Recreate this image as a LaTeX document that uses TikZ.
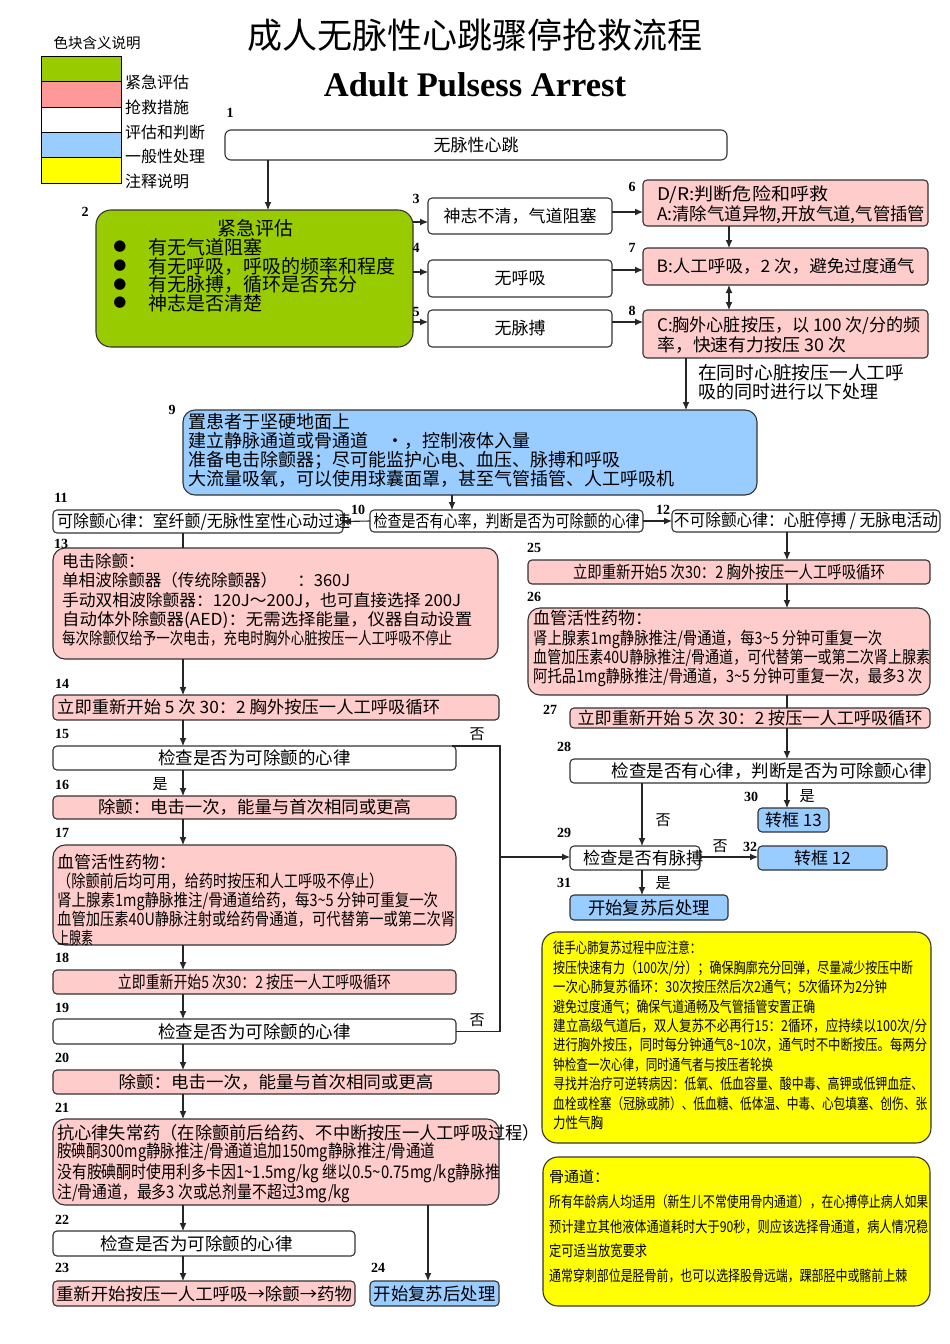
\documentclass[tikz,border=0pt]{standalone}
\usepackage{fontspec}
\usepackage{graphicx}
\setmainfont{Noto Sans CJK SC}
\newfontfamily\tmr{Liberation Serif}
\newfontfamily\djv{DejaVu Sans}
\usetikzlibrary{arrows.meta}
\newcommand\fs[2]{\fontsize{#1}{#2}\selectfont}
\newcommand\fw[2]{\resizebox{#1pt}{\height}{#2}}
\newcommand\tl{\textasciitilde}
\definecolor{gre}{HTML}{99CC00}
\definecolor{pnk}{HTML}{FFCCCC}
\definecolor{pnkL}{HTML}{FF9999}
\definecolor{blu}{HTML}{99CCFF}
\definecolor{yel}{HTML}{FFFF00}
\definecolor{edge}{HTML}{333333}
\newcommand\bx[7]{\node[#2, minimum width={(#5-#3)*1pt}, minimum height={(#6-#4)*1pt}] (#1) at ({(#3+#5)/2},{(#4+#6)/2}) {#7};}
\begin{document}
\begin{tikzpicture}[x=1pt,y=-1pt,
 bxs/.style={draw=edge,line width=1.1pt,rounded corners=4pt,inner sep=0pt,outer sep=0pt,font=\fs{17}{19}},
 wh/.style={bxs,fill=white},
 pk/.style={bxs,fill=pnk},
 bl/.style={bxs,fill=blu},
 gr/.style={bxs,fill=gre},
 ye/.style={bxs,fill=yel},
 lgd/.style={draw=black,line width=1pt,inner sep=0pt,outer sep=0pt},
 arr/.style={line width=1.1pt,draw=black!85,-{Latex[length=8pt,width=7pt]}},
 arrd/.style={line width=1.1pt,draw=black!85,{Latex[length=8pt,width=7pt]}-{Latex[length=8pt,width=7pt]}},
 ln/.style={line width=1.1pt,draw=black!85},
 tx/.style={inner sep=0pt,font=\fs{17}{19}},
 ml/.style={tx,anchor=north west,align=left},
 num/.style={inner sep=0pt,font=\tmr\bfseries\fs{14}{14}},
 yn/.style={inner sep=0pt,font=\fs{15}{15}},
]
\useasboundingbox (0,0) rectangle (950,1344);
\fill[white] (0,0) rectangle (950,1344);

% helper coordinates
\coordinate (xa) at (183,0);
\coordinate (xb) at (268,0);
\coordinate (xc) at (686,0);
\coordinate (xd) at (452,0);
\coordinate (xe) at (729,0);
\coordinate (xf) at (787,0);
\coordinate (xg) at (642,0);
\coordinate (xh) at (500,0);
\coordinate (xi) at (428,0);
\coordinate (ya) at (0,222);
\coordinate (yb) at (0,272);
\coordinate (yc) at (0,322);
\coordinate (yd) at (0,212);
\coordinate (ye) at (0,270);
\coordinate (yf) at (0,857);

% legend
\node[tx,font=\fs{14.5}{15}] (legt) at (97,43) {色块含义说明};
\bx{lg1}{lgd,fill=gre}{41}{56}{121}{81}{}
\bx{lg2}{lgd,fill=pnkL}{41}{81}{121}{107}{}
\bx{lg3}{lgd,fill=white}{41}{107}{121}{132}{}
\bx{lg4}{lgd,fill=blu}{41}{132}{121}{157}{}
\bx{lg5}{lgd,fill=yel}{41}{157}{121}{183}{}
\node[tx,anchor=west,font=\fs{16}{16}] (lgl1) at (125,82) {紧急评估};
\node[tx,anchor=west,font=\fs{16}{16}] (lgl2) at (125,107) {抢救措施};
\node[tx,anchor=west,font=\fs{16}{16}] (lgl3) at (125,132) {评估和判断};
\node[tx,anchor=west,font=\fs{16}{16}] (lgl4) at (125,156) {一般性处理};
\node[tx,anchor=west,font=\fs{16}{16}] (lgl5) at (125,181) {注释说明};

% titles
\node[tx,font=\fs{35}{35}] (title) at (475,35) {成人无脉性心跳骤停抢救流程};
\node[inner sep=0pt,font=\tmr\bfseries\fs{34.5}{35}] (titleen) at (475,85) {Adult Pulsess Arrest};

% boxes
\bx{b1}{wh,rounded corners=6pt}{225}{130}{727}{160}{无脉性心跳}
\bx{g2}{gr,rounded corners=15pt}{96}{210}{413}{347}{}
\bx{b3}{wh}{428}{198}{612}{234}{神志不清，气道阻塞}
\bx{b4}{wh}{428}{260}{612}{297}{无呼吸}
\bx{b5}{wh}{428}{310}{612}{347}{无脉搏}
\bx{b6}{pk}{643}{180}{928}{226}{}
\bx{b7}{pk}{643}{248}{928}{285}{\fw{258}{B:人工呼吸，2 次，避免过度通气}}
\bx{b8}{pk}{643}{310}{928}{358}{}
\bx{b9}{bl,rounded corners=12pt}{183}{410}{757}{495}{}
\bx{b10}{wh}{370}{510}{643}{532}{\fw{266}{检查是否有心率，判断是否为可除颤的心律}}
\bx{b11}{wh}{53}{510}{343}{533}{}
\bx{b12}{wh}{672}{510}{940}{532}{\fw{264}{不可除颤心律：心脏停搏 / 无脉电活动}}
\bx{b13}{pk,rounded corners=12pt}{53}{548}{498}{659}{}
\bx{b14}{pk}{53}{695}{499}{720}{}
\bx{b15}{wh}{53}{746}{456}{770}{\fs{17.5}{19}检查是否为可除颤的心律}
\bx{b16}{pk}{53}{796}{456}{819}{\fw{313}{除颤：电击一次，能量与首次相同或更高}}
\bx{b17}{pk,rounded corners=12pt}{53}{845}{456}{945}{}
\bx{b18}{pk}{53}{970}{456}{994}{\fw{273}{立即重新开始5 次30：2 按压一人工呼吸循环}}
\bx{b19}{wh}{53}{1019}{456}{1044}{\fs{17.5}{19}检查是否为可除颤的心律}
\bx{b20}{pk}{53}{1070}{499}{1094}{\fw{315}{除颤：电击一次，能量与首次相同或更高}}
\bx{b21}{pk,rounded corners=12pt}{53}{1119}{499}{1205}{}
\bx{b22}{wh}{53}{1231}{355}{1256}{}
\bx{b23}{pk}{53}{1281}{355}{1306}{\fw{296}{重新开始按压一人工呼吸→除颤→药物}}
\bx{b24}{bl}{370}{1281}{499}{1306}{\fs{17.4}{19}开始复苏后处理}
\bx{b25}{pk}{528}{560}{930}{584}{\fw{312}{立即重新开始5 次30：2 胸外按压一人工呼吸循环}}
\bx{b26}{pk,rounded corners=12pt}{528}{608}{930}{695}{}
\bx{b27}{pk}{570}{708}{930}{728}{\fw{345}{立即重新开始 5 次 30：2 按压一人工呼吸循环}}
\bx{b28}{wh}{570}{759}{930}{783}{}
\bx{b29}{wh}{570}{846}{700}{870}{}
\bx{b30}{bl}{758}{808}{829}{832}{转框 13}
\bx{b31}{bl}{570}{895}{728}{920}{\fs{17.4}{19}开始复苏后处理}
\bx{b32}{bl}{758}{846}{887}{870}{转框 12}
\bx{y1}{ye,rounded corners=15pt}{542}{932}{931}{1143}{}
\bx{y2}{ye,rounded corners=15pt}{543}{1157}{930}{1306}{}

% texts inside boxes
\node[tx,font=\fs{19}{19}] (g2t) at (255,228) {紧急评估};
\node[ml,font=\fs{19}{18.7}] (g2l) at (148,238.3) {有无气道阻塞\\有无呼吸，呼吸的频率和程度\\有无脉搏，循环是否充分\\神志是否清楚};
\node[inner sep=0pt,font=\djv\fs{15}{15}] (bu1) at (120,247) {●};
\node[inner sep=0pt,font=\djv\fs{15}{15}] (bu2) at (120,265.7) {●};
\node[inner sep=0pt,font=\djv\fs{15}{15}] (bu3) at (120,284.4) {●};
\node[inner sep=0pt,font=\djv\fs{15}{15}] (bu4) at (120,303.1) {●};
\node[ml,font=\fs{17.5}{20}] (t6) at (657,185) {\fw{171}{D/R:判断危险和呼救}\\\fw{268}{A:清除气道异物,开放气道,气管插管}};
\node[ml,font=\fs{17.5}{19.5}] (t8) at (657,317) {\fw{263}{C:胸外心脏按压，以 100 次/分的频}\\\fw{189}{率，快速有力按压 30 次}};
\node[ml,font=\fs{18}{19}] (t8n) at (698,364) {\fw{206}{在同时心脏按压一人工呼}\\吸的同时进行以下处理};
\node[ml,font=\fs{18}{19.2}] (t9) at (188,412.7) {置患者于坚硬地面上\\建立静脉通道或骨通道　·，控制液体入量\\准备电击除颤器；尽可能监护心电、血压、脉搏和呼吸\\大流量吸氧，可以使用球囊面罩，甚至气管插管、人工呼吸机};
\node[tx,anchor=west] (t11) at (57,521.5) {\fw{293}{可除颤心律：室纤颤/无脉性室性心动过速}};
\node[ml,font=\fs{16.5}{19.3}] (t13) at (62,553.4) {电击除颤：\\\fw{288}{单相波除颤器（传统除颤器）\hspace{20pt}：360J}\\\fw{399}{手动双相波除颤器：120J～200J，也可直接选择 200J}\\\fw{410}{自动体外除颤器(AED)：无需选择能量，仪器自动设置}\\\fw{390}{每次除颤仅给予一次电击，充电时胸外心脏按压一人工呼吸不停止}};
\node[tx,anchor=west] (t14) at (57,707.5) {\fw{383}{立即重新开始 5 次 30：2 胸外按压一人工呼吸循环}};
\node[ml] (t17) at (57,854) {血管活性药物：\\\fw{326}{（除颤前后均可用，给药时按压和人工呼吸不停止）}\\\fw{381}{肾上腺素1mg静脉推注/骨通道给药，每3\tl5 分钟可重复一次}\\\fw{398}{血管加压素40U静脉注射或给药骨通道，可代替第一或第二次肾}\\\fw{36}{上腺素}};
\node[ml,font=\fs{17.5}{18.7}] (t21) at (57,1124) {\fw{483}{抗心律失常药（在除颤前后给药、不中断按压一人工呼吸过程）}\\\fw{378}{胺碘酮300mg静脉推注/骨通道追加150mg静脉推注/骨通道}\\\fw{443}{没有胺碘酮时使用利多卡因1\tl1.5mg/kg 继以0.5\tl0.75mg/kg静脉推}\\\fw{293}{注/骨通道，最多3 次或总剂量不超过3mg/kg}};
\node[tx,anchor=west,font=\fs{17.5}{19}] (t22) at (100,1243.5) {检查是否为可除颤的心律};
\node[ml,font=\fs{17}{19.3}] (t26) at (533,610.2) {血管活性药物：\\\fw{349}{肾上腺素1mg静脉推注/骨通道，每3\tl5 分钟可重复一次}\\\fw{397}{血管加压素40U静脉推注/骨通道，可代替第一或第二次肾上腺素}\\\fw{389}{阿托品1mg静脉推注/骨通道，3\tl5 分钟可重复一次，最多3 次}};
\node[tx,anchor=east,font=\fs{17.5}{19}] (t28) at (927,771) {检查是否有心律，判断是否为可除颤心律};
\node[tx,anchor=west] (t29) at (583,858) {\fw{120}{检查是否有脉搏}};
\node[ml,font=\fs{15}{19.4}] (ty1) at (553,941) {\fw{148}{徒手心肺复苏过程中应注意：}\\\fw{360}{按压快速有力（100次/分）；确保胸廓充分回弹，尽量减少按压中断}\\\fw{334}{一次心肺复苏循环：30次按压然后次2通气；5次循环为2分钟}\\\fw{262}{避免过度通气；确保气道通畅及气管插管安置正确}\\\fw{374}{建立高级气道后，双人复苏不必再行15：2循环，应持续以100次/分}\\\fw{374}{进行胸外按压，同时每分钟通气8\tl10次，通气时不中断按压。每两分}\\\fw{220}{钟检查一次心律，同时通气者与按压者轮换}\\\fw{370}{寻找并治疗可逆转病因：低氧、低血容量、酸中毒、高钾或低钾血症、}\\\fw{374}{血栓或栓塞（冠脉或肺）、低血糖、低体温、中毒、心包填塞、创伤、张}\\\fw{50}{力性气胸}};
\node[ml,font=\fs{15}{24.7}] (ty2) at (549,1170) {骨通道：\\\fw{379}{所有年龄病人均适用（新生儿不常使用骨内通道），在心搏停止病人如果}\\\fw{379}{预计建立其他液体通道耗时大于90秒，则应该选择骨通道，病人情况稳}\\\fw{98}{定可适当放宽要求}\\\fw{358}{通常穿刺部位是胫骨前，也可以选择股骨远端，踝部胫中或髂前上棘}};

% number labels
\node[num] (n1) at (230,113) {1};
\node[num] (n2) at (85,212) {2};
\node[num] (n3) at (416,199) {3};
\node[num] (n4) at (416,248) {4};
\node[num] (n5) at (416,312) {5};
\node[num] (n6) at (632,187) {6};
\node[num] (n7) at (632,248) {7};
\node[num] (n8) at (632,311) {8};
\node[num] (n9) at (172,410) {9};
\node[num] (n10) at (358,510) {10};
\node[num] (n11) at (61,498) {11};
\node[num] (n12) at (663,510) {12};
\node[num] (n13) at (61,544) {13};
\node[num] (n14) at (62,684) {14};
\node[num] (n15) at (62,734) {15};
\node[num] (n16) at (62,785) {16};
\node[num] (n17) at (62,833) {17};
\node[num] (n18) at (62,958) {18};
\node[num] (n19) at (62,1008) {19};
\node[num] (n20) at (62,1058) {20};
\node[num] (n21) at (62,1108) {21};
\node[num] (n22) at (62,1220) {22};
\node[num] (n23) at (62,1268) {23};
\node[num] (n24) at (378,1268) {24};
\node[num] (n25) at (534,548) {25};
\node[num] (n26) at (534,597) {26};
\node[num] (n27) at (550,710) {27};
\node[num] (n28) at (564,747) {28};
\node[num] (n29) at (564,833) {29};
\node[num] (n30) at (751,797) {30};
\node[num] (n31) at (564,883) {31};
\node[num] (n32) at (750,847) {32};

% yes / no labels
\node[yn] (no15) at (477,734) {否};
\node[yn] (yes16) at (160,784) {是};
\node[yn] (no19) at (477,1020) {否};
\node[yn] (no28) at (663,820) {否};
\node[yn] (yes30) at (807,796) {是};
\node[yn] (no29) at (720,846) {否};
\node[yn] (yes31) at (663,883) {是};

% connectors
\draw[arr] (b1.south -| xb) -- (g2.north -| xb);
\draw[arr] (g2.east |- ya) -- (b3.west |- ya);
\draw[arr] (g2.east |- yb) -- (b4.west |- yb);
\draw[arr] (g2.east |- yc) -- (b5.west |- yc);
\draw[arr] (b3.east |- yd) -- (b6.west |- yd);
\draw[arr] (b4.east |- ye) -- (b7.west |- ye);
\draw[arr] (b5.east |- yc) -- (b8.west |- yc);
\draw[arr] (b6.south -| xe) -- (b7.north -| xe);
\draw[arrd] (b7.south -| xe) -- (b8.north -| xe);
\draw[arr] (b8.south -| xc) -- (b9.north -| xc);
\draw[arr] (b9.south -| xd) -- (b10.north -| xd);
\draw[arr] (b10.west) -- (b11.east);
\draw[arr] (b10.east) -- (b12.west);
\draw[ln] (b11.south -| xa) -- (b13.north -| xa);
\draw[arr] (b13.south -| xa) -- (b14.north -| xa);
\draw[arr] (b14.south -| xa) -- (b15.north -| xa);
\draw[arr] (b15.south -| xa) -- (b16.north -| xa);
\draw[arr] (b16.south -| xa) -- (b17.north -| xa);
\draw[arr] (b17.south -| xa) -- (b18.north -| xa);
\draw[arr] (b18.south -| xa) -- (b19.north -| xa);
\draw[arr] (b19.south -| xa) -- (b20.north -| xa);
\draw[arr] (b20.south -| xa) -- (b21.north -| xa);
\draw[arr] (b21.south -| xa) -- (b22.north -| xa);
\draw[arr] (b22.south -| xa) -- (b23.north -| xa);
\draw[arr] (b21.south -| xi) -- (b24.north -| xi);
\draw[ln] ([xshift=-4pt]b15.north east) -- (b15.north east -| xh) -- (b19.east -| xh) -- (b19.east);
\draw[arr] (xh |- yf) -- (b29.west |- yf);
\draw[arr] (b12.south -| xf) -- (b25.north -| xf);
\draw[arr] (b25.south -| xf) -- (b26.north -| xf);
\draw[ln] (b26.south -| xf) -- (b27.north -| xf);
\draw[arr] (b27.south -| xf) -- (b28.north -| xf);
\draw[arr] (b28.south -| xf) -- (b30.north -| xf);
\draw[arr] (b28.south -| xg) -- (b29.north -| xg);
\draw[arr] (b29.south -| xg) -- (b31.north -| xg);
\draw[arr] (b29.east |- yf) -- (b32.west |- yf);
\end{tikzpicture}
\end{document}
